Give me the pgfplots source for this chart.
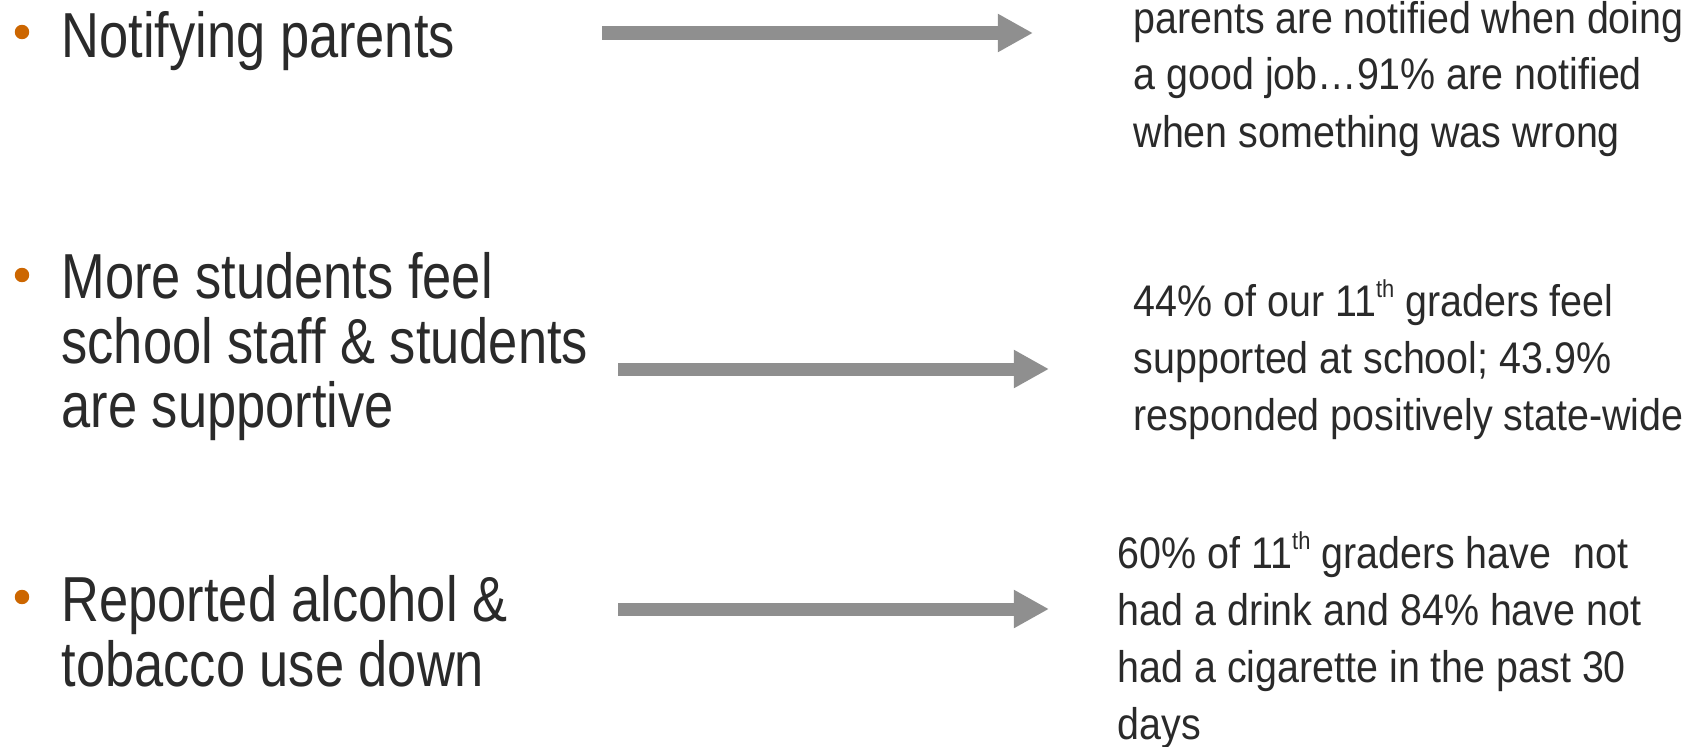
\documentclass[border=0pt]{standalone}
\usepackage{pgfplots}
\pgfplotsset{compat=1.18}
\usetikzlibrary{arrows.meta}
\usepackage{fontspec}
\setmainfont{Liberation Sans}

\definecolor{txt}{RGB}{42,42,42}
\definecolor{bul}{RGB}{204,102,0}
\definecolor{arr}{RGB}{143,143,143}

% left / right text styles (sizes, 1px = 0.1mm)
\tikzset{
  lft/.style={anchor=base west, inner sep=0pt, xscale=0.824, text=txt,
    font=\fontsize{18.1pt}{18.4pt}\selectfont},
  rgt/.style={anchor=base west, inner sep=0pt, xscale=0.89, text=txt,
    font=\fontsize{12.6pt}{16.2pt}\selectfont},
}
\newcommand{\ordsup}[1]{\raisebox{0.42em}{\fontsize{7pt}{8pt}\selectfont #1}}

\begin{document}
\begin{tikzpicture}
  \begin{axis}[
      width=16.9cm, height=7.47cm, scale only axis,
      xmin=0, xmax=1690, ymin=0, ymax=747,
      y dir=reverse,
      hide axis,
      clip=false,
    ]
    % keep the full slide area
    \addplot[draw=none] coordinates {(0,0) (1690,747)};

    % bullets
    \addplot[only marks, mark=*, mark size=1.85pt, color=bul]
      coordinates {(22,32) (22,275) (22,597)};

    % arrows
    \addplot[arr, line width=3.7pt, -{Triangle[length=10pt,width=10.2pt]}]
      coordinates {(602,33) (1033,33)};
    \addplot[arr, line width=3.7pt, -{Triangle[length=10pt,width=10.2pt]}]
      coordinates {(618,369) (1049,369)};
    \addplot[arr, line width=3.7pt, -{Triangle[length=10pt,width=10.2pt]}]
      coordinates {(618,609) (1049,609)};

    % left column
    \node[lft] at (axis cs:61,58) {Notifying parents};
    \node[lft] at (axis cs:61,298) {More students feel};
    \node[lft] at (axis cs:61,363) {school staff \& students};
    \node[lft] at (axis cs:61,427) {are supportive};
    \node[lft] at (axis cs:61,621) {Reported alcohol \&};
    \node[lft] at (axis cs:61,686) {tobacco use down};

    % right column
    \node[rgt] at (axis cs:1133,33) {parents are notified when doing};
    \node[rgt] at (axis cs:1133,90) {a good job…91\% are notified};
    \node[rgt] at (axis cs:1133,147) {when something was wrong};

    \node[rgt] at (axis cs:1133,316) {44\% of our 11\ordsup{th} graders feel};
    \node[rgt] at (axis cs:1133,373) {supported at school; 43.9\%};
    \node[rgt] at (axis cs:1133,430) {responded positively state-wide};

    \node[rgt] at (axis cs:1117,568) {60\% of 11\ordsup{th} graders have\ \ not};
    \node[rgt] at (axis cs:1117,625) {had a drink and 84\% have not};
    \node[rgt] at (axis cs:1117,682) {had a cigarette in the past 30};
    \node[rgt] at (axis cs:1117,739) {days};
  \end{axis}
  \pgfresetboundingbox
  \useasboundingbox (current axis.south west) rectangle (current axis.north east);
\end{tikzpicture}
\end{document}
